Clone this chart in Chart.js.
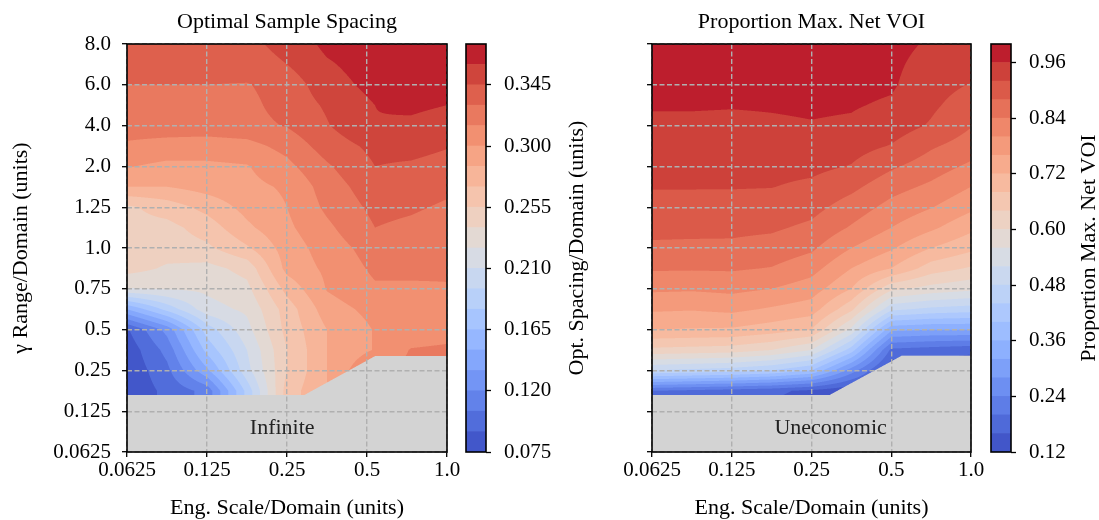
<!DOCTYPE html>
<html lang="en">
<head>
<meta charset="UTF-8">
<title>Optimal Sample Spacing / Proportion Max. Net VOI</title>
<script src="https://cdn.jsdelivr.net/npm/chart.js@4.4.1/dist/chart.umd.min.js"></script>
<style>
  body { margin: 0; background: #fff; }
  #page { position: relative; width: 1099px; height: 520px; overflow: hidden; }
  #page canvas { position: absolute; top: 0; }
</style>
</head>
<body>
<div id="page">
  <canvas id="spacingPlot" width="480" height="520" style="left:0px"></canvas>
  <canvas id="spacingBar" width="180" height="520" style="left:440px"></canvas>
  <canvas id="voiPlot" width="440" height="520" style="left:560px"></canvas>
  <canvas id="voiBar" width="139" height="520" style="left:960px"></canvas>
</div>
<script>
// axis labels (both panels share them)
const xTickLabels = ['0.0625', '0.125', '0.25', '0.5', '1.0'];
const yTickLabels = ['0.0625', '0.125', '0.25', '0.5', '0.75', '1.0', '1.25', '2.0', '4.0', '6.0', '8.0'];

// grid rows, top (8.0) to bottom (0.0625), in tick-index units
const yNodes = [10, 9.5, 9, 8.5, 8, 7.5, 7, 6.5, 6, 5.5, 5, 4.5, 4, 3.5, 3, 2.5, 2, 1.5, 1, 0.5, 0];

// optimal spacing / domain
const spacingX = [0, 0.5, 1, 1.5, 2, 2.5, 3.1, 3.55, 4];
const spacingZ = [
  [0.338, 0.338, 0.340, 0.342, 0.349, 0.364, 0.370, 0.372, 0.374],
  [0.336, 0.336, 0.337, 0.339, 0.345, 0.358, 0.368, 0.370, 0.372],
  [0.330, 0.330, 0.330, 0.329, 0.337, 0.353, 0.365, 0.368, 0.368],
  [0.325, 0.325, 0.326, 0.326, 0.336, 0.347, 0.360, 0.363, 0.360],
  [0.321, 0.322, 0.323, 0.325, 0.331, 0.344, 0.3595, 0.357, 0.353],
  [0.313, 0.310, 0.308, 0.310, 0.320, 0.337, 0.349, 0.350, 0.346],
  [0.301, 0.296, 0.297, 0.299, 0.311, 0.328, 0.345, 0.343, 0.3395],
  [0.285, 0.285, 0.291, 0.296, 0.302, 0.322, 0.339, 0.337, 0.333],
  [0.252, 0.262, 0.275, 0.290, 0.300, 0.318, 0.334, 0.332, 0.328],
  [0.250, 0.250, 0.262, 0.282, 0.297, 0.312, 0.330, 0.327, 0.323],
  [0.249, 0.247, 0.252, 0.268, 0.292, 0.307, 0.322, 0.320, 0.318],
  [0.246, 0.238, 0.235, 0.245, 0.290, 0.303, 0.318, 0.318, 0.317],
  [0.224, 0.226, 0.228, 0.236, 0.275, 0.301, 0.313, 0.313, 0.314],
  [0.150, 0.185, 0.219, 0.228, 0.262, 0.293, 0.305, 0.306, 0.308],
  [0.088, 0.125, 0.187, 0.220, 0.260, 0.285, 0.301, 0.305, 0.308],
  [0.080, 0.110, 0.170, 0.210, 0.255, 0.285, 0.301, 0.316, 0.318],
  [0.078, 0.101, 0.147, 0.205, 0.255, 0.285, 0.318, 0.318, 0.320],
  [0.078, 0.094, 0.110, 0.185, 0.262, 0.285, 0.318, 0.318, 0.320],
  [0.078, 0.094, 0.110, 0.185, 0.262, 0.285, 0.318, 0.318, 0.320],
  [0.078, 0.094, 0.110, 0.185, 0.262, 0.285, 0.318, 0.318, 0.320],
  [0.078, 0.094, 0.110, 0.185, 0.262, 0.285, 0.318, 0.318, 0.320]
];
const spacingLevels = [0.075, 0.09, 0.105, 0.12, 0.135, 0.15, 0.165, 0.18, 0.195, 0.21, 0.225,
                       0.24, 0.255, 0.27, 0.285, 0.3, 0.315, 0.33, 0.345, 0.36, 0.375];
const spacingTicks = [0.075, 0.12, 0.165, 0.21, 0.255, 0.3, 0.345];
// upper edge of the "Infinite" region
const infiniteEdge = [[0, 1.40], [2.22, 1.40], [3.1, 2.35], [4, 2.35]];

// proportion of max net VOI
const voiX = [0, 0.5, 1, 1.5, 2, 2.5, 3, 3.5, 4];
const voiZ = [
  [0.995, 0.993, 0.990, 0.988, 0.985, 0.980, 0.972, 0.955, 0.950],
  [0.990, 0.988, 0.985, 0.982, 0.978, 0.975, 0.968, 0.945, 0.940],
  [0.975, 0.974, 0.973, 0.972, 0.972, 0.970, 0.965, 0.935, 0.918],
  [0.963, 0.963, 0.962, 0.963, 0.965, 0.963, 0.955, 0.927, 0.900],
  [0.953, 0.953, 0.952, 0.955, 0.958, 0.955, 0.940, 0.916, 0.882],
  [0.943, 0.943, 0.942, 0.944, 0.945, 0.935, 0.918, 0.885, 0.862],
  [0.932, 0.932, 0.931, 0.932, 0.930, 0.918, 0.886, 0.860, 0.832],
  [0.922, 0.922, 0.922, 0.921, 0.912, 0.890, 0.855, 0.832, 0.800],
  [0.907, 0.907, 0.906, 0.904, 0.893, 0.862, 0.827, 0.802, 0.769],
  [0.891, 0.890, 0.889, 0.886, 0.872, 0.836, 0.800, 0.768, 0.730],
  [0.873, 0.872, 0.872, 0.865, 0.847, 0.800, 0.765, 0.720, 0.690],
  [0.845, 0.844, 0.845, 0.838, 0.815, 0.760, 0.720, 0.660, 0.635],
  [0.807, 0.805, 0.810, 0.800, 0.780, 0.720, 0.610, 0.585, 0.570],
  [0.766, 0.763, 0.770, 0.755, 0.740, 0.650, 0.490, 0.470, 0.460],
  [0.720, 0.717, 0.715, 0.700, 0.680, 0.550, 0.330, 0.320, 0.320],
  [0.630, 0.625, 0.620, 0.600, 0.560, 0.420, 0.190, 0.180, 0.170],
  [0.480, 0.470, 0.460, 0.440, 0.400, 0.260, 0.125, 0.125, 0.125],
  [0.200, 0.190, 0.180, 0.170, 0.150, 0.125, 0.125, 0.125, 0.125],
  [0.180, 0.170, 0.160, 0.150, 0.130, 0.125, 0.125, 0.125, 0.125],
  [0.180, 0.170, 0.160, 0.150, 0.130, 0.125, 0.125, 0.125, 0.125],
  [0.180, 0.170, 0.160, 0.150, 0.130, 0.125, 0.125, 0.125, 0.125]
];
const voiLevels = [0.12, 0.16, 0.2, 0.24, 0.28, 0.32, 0.36, 0.4, 0.44, 0.48, 0.52, 0.56,
                   0.6, 0.64, 0.68, 0.72, 0.76, 0.8, 0.84, 0.88, 0.92, 0.96, 1.0];
const voiTicks = [0.12, 0.24, 0.36, 0.48, 0.6, 0.72, 0.84, 0.96];
// upper edge of the "Uneconomic" region
const uneconomicEdge = [[0, 1.40], [2.23, 1.40], [3.13, 2.36], [4, 2.36]];

// coolwarm colormap
const COOLWARM = [
  [59,76,192],[68,90,204],[77,104,215],[87,117,225],[98,130,234],[108,142,241],[119,154,247],
  [130,165,251],[141,176,254],[152,185,255],[163,194,255],[174,201,253],[184,208,249],
  [194,213,244],[204,217,238],[213,219,230],[221,221,221],[229,216,209],[236,211,197],
  [241,204,185],[245,196,173],[247,187,160],[247,177,148],[247,166,135],[244,154,123],
  [241,141,111],[236,127,99],[229,112,88],[222,96,77],[213,80,66],[203,62,56],[192,40,47],[180,4,38]
];
const MASK_GRAY = [211, 211, 211];

function coolwarm(t) {
  const p = Math.min(1, Math.max(0, t)) * (COOLWARM.length - 1);
  const i = Math.min(COOLWARM.length - 2, Math.floor(p)), f = p - i;
  return COOLWARM[i].map((c, k) => c + (COOLWARM[i + 1][k] - c) * f);
}
const rgb = c => `rgb(${c.map(Math.round).join(',')})`;

function locate(nodes, v) {
  const asc = nodes[nodes.length - 1] > nodes[0];
  let i = 0;
  while (i < nodes.length - 2 && (asc ? v > nodes[i + 1] : v < nodes[i + 1])) i++;
  const t = (v - nodes[i]) / (nodes[i + 1] - nodes[i]);
  return [i, Math.min(1, Math.max(0, t))];
}

function sampleGrid(xs, z, x, y) {
  const [i, tx] = locate(xs, x);
  const [j, ty] = locate(yNodes, y);
  const a = z[j][i], b = z[j][i + 1], c = z[j + 1][i], d = z[j + 1][i + 1];
  return a * (1 - tx) * (1 - ty) + b * tx * (1 - ty) + c * (1 - tx) * ty + d * tx * ty;
}

function edgeAt(edge, x) {
  for (let k = 0; k < edge.length - 1; k++) {
    const [x0, y0] = edge[k], [x1, y1] = edge[k + 1];
    if (x <= x1) return y0 + (y1 - y0) * Math.max(0, (x - x0) / (x1 - x0));
  }
  return edge[edge.length - 1][1];
}

function bandOf(levels, v) {
  let k = 0;
  while (k < levels.length - 2 && v >= levels[k + 1]) k++;
  return k;
}

const SERIF = '"Liberation Serif", "Times New Roman", serif';
Chart.defaults.font.family = SERIF;
Chart.defaults.font.size = 21;
Chart.defaults.color = '#000';

// filled contours rasterised from the grid, plus frame and region label
function contourLayer(cfg) {
  return {
    id: 'contourLayer',
    beforeDatasetsDraw(chart) {
      const { ctx, chartArea, scales } = chart;
      const x0 = Math.round(chartArea.left), y0 = Math.round(chartArea.top);
      const w = Math.round(chartArea.right) - x0, h = Math.round(chartArea.bottom) - y0;
      const n = cfg.levels.length - 1;
      const palette = [];
      for (let i = 0; i < n; i++) palette.push(coolwarm((i + 0.5) / n));
      const img = ctx.createImageData(w, h);
      const S = 3;
      for (let py = 0; py < h; py++) {
        for (let px = 0; px < w; px++) {
          let r = 0, g = 0, b = 0;
          for (let sy = 0; sy < S; sy++) {
            const dy = scales.y.getValueForPixel(y0 + py + (sy + 0.5) / S);
            for (let sx = 0; sx < S; sx++) {
              const dx = scales.x.getValueForPixel(x0 + px + (sx + 0.5) / S);
              const c = dy < edgeAt(cfg.edge, dx)
                ? MASK_GRAY
                : palette[bandOf(cfg.levels, sampleGrid(cfg.xs, cfg.z, dx, dy))];
              r += c[0]; g += c[1]; b += c[2];
            }
          }
          const k = (py * w + px) * 4;
          img.data[k] = r / (S * S);
          img.data[k + 1] = g / (S * S);
          img.data[k + 2] = b / (S * S);
          img.data[k + 3] = 255;
        }
      }
      ctx.putImageData(img, x0, y0);
    },
    afterDraw(chart) {
      const { ctx, chartArea: a, scales } = chart;
      ctx.save();
      ctx.font = '22px ' + SERIF;
      ctx.fillStyle = '#222';
      ctx.textAlign = 'center';
      ctx.textBaseline = 'middle';
      ctx.fillText(cfg.note, scales.x.getPixelForValue(cfg.notePos[0]), scales.y.getPixelForValue(cfg.notePos[1]));
      ctx.strokeStyle = '#000';
      ctx.lineWidth = 1.6;
      ctx.strokeRect(a.left, a.top, a.right - a.left, a.bottom - a.top);
      ctx.restore();
    }
  };
}

const gridStyle = {
  z: 1, color: '#b0b0b0', lineWidth: 1.4, drawTicks: true, tickLength: 5,
  tickColor: '#000', tickWidth: 1.3, tickBorderDash: []
};

function contourChart(id, cfg) {
  return new Chart(document.getElementById(id), {
    type: 'scatter',
    data: { datasets: [] },
    plugins: [contourLayer(cfg)],
    options: {
      responsive: false, animation: false, events: [],
      layout: { padding: { left: 0, right: cfg.padRight, top: 0, bottom: 0 } },
      plugins: {
        legend: { display: false },
        tooltip: { enabled: false },
        title: {
          display: true, text: cfg.title, fullSize: false, color: '#000',
          font: { size: 22, weight: 'normal' }, padding: { top: 9, bottom: 8.6 }
        }
      },
      scales: {
        x: {
          type: 'linear', min: 0, max: 4, bounds: 'data',
          afterBuildTicks: s => { s.ticks = xTickLabels.map((_, i) => ({ value: i })); },
          afterFit: s => { s.height = 68; },
          grid: gridStyle,
          border: { display: false, dash: [5, 2.5] },
          ticks: { padding: 1, maxRotation: 0, autoSkip: false, color: '#000', callback: v => xTickLabels[v] },
          title: { display: true, text: 'Eng. Scale/Domain (units)', color: '#000', font: { size: 22 }, padding: { top: 0, bottom: -1 } }
        },
        y: {
          type: 'linear', min: 0, max: 10, bounds: 'data',
          afterBuildTicks: s => { s.ticks = yTickLabels.map((_, i) => ({ value: i })); },
          afterFit: s => { s.width = cfg.yWidth; },
          grid: gridStyle,
          border: { display: false, dash: [5, 2.5] },
          ticks: { display: cfg.yLabels, padding: 11, autoSkip: false, color: '#000', callback: v => yTickLabels[v] },
          title: { display: cfg.yLabels, text: 'γ Range/Domain (units)', color: '#000', font: { size: 22 }, padding: { top: 8, bottom: 0 } }
        }
      }
    }
  });
}

// colour bar: one floating bar per contour band
function colorBar(id, levels, ticks, digits, label, padLeft, axisWidth, labelX) {
  const n = levels.length - 1;
  const datasets = [];
  for (let i = 0; i < n; i++) {
    datasets.push({
      data: [[levels[i], levels[i + 1]]],
      backgroundColor: rgb(coolwarm((i + 0.5) / n)),
      borderWidth: 0, barPercentage: 1, categoryPercentage: 1, grouped: false
    });
  }
  return new Chart(document.getElementById(id), {
    type: 'bar',
    data: { labels: [''], datasets },
    plugins: [{
      id: 'barFrame',
      afterDraw(chart) {
        const { ctx, chartArea: a } = chart;
        ctx.save();
        ctx.strokeStyle = '#000';
        ctx.lineWidth = 1.6;
        ctx.strokeRect(a.left, a.top, a.right - a.left, a.bottom - a.top);
        ctx.translate(labelX, (a.top + a.bottom) / 2);
        ctx.rotate(-Math.PI / 2);
        ctx.font = '22px ' + SERIF;
        ctx.fillStyle = '#000';
        ctx.textAlign = 'center';
        ctx.textBaseline = 'middle';
        ctx.fillText(label, 0, 0);
        ctx.restore();
      }
    }],
    options: {
      responsive: false, animation: false, events: [],
      layout: { padding: { left: padLeft, right: 0, top: 44, bottom: 68 } },
      plugins: { legend: { display: false }, tooltip: { enabled: false } },
      scales: {
        x: { display: false },
        y: {
          position: 'right', min: levels[0], max: levels[n], bounds: 'data',
          afterBuildTicks: s => { s.ticks = ticks.map(v => ({ value: v })); },
          afterFit: s => { s.width = axisWidth; },
          grid: { drawOnChartArea: false, drawTicks: true, tickLength: 5, tickColor: '#000', tickWidth: 1.3 },
          border: { display: false },
          ticks: { padding: 13, color: '#000', callback: v => v.toFixed(digits) }
        }
      }
    }
  });
}

contourChart('spacingPlot', {
  title: 'Optimal Sample Spacing', xs: spacingX, z: spacingZ, levels: spacingLevels,
  edge: infiniteEdge, note: 'Infinite', notePos: [1.94, 0.58],
  yWidth: 127, yLabels: true, padRight: 33
});
colorBar('spacingBar', spacingLevels, spacingTicks, 3, 'Opt. Spacing/Domain (units)', 26, 134, 137);

contourChart('voiPlot', {
  title: 'Proportion Max. Net VOI', xs: voiX, z: voiZ, levels: voiLevels,
  edge: uneconomicEdge, note: 'Uneconomic', notePos: [2.24, 0.58],
  yWidth: 92, yLabels: false, padRight: 29
});
colorBar('voiBar', voiLevels, voiTicks, 2, 'Proportion Max. Net VOI', 31, 88, 129);
</script>
</body>
</html>
